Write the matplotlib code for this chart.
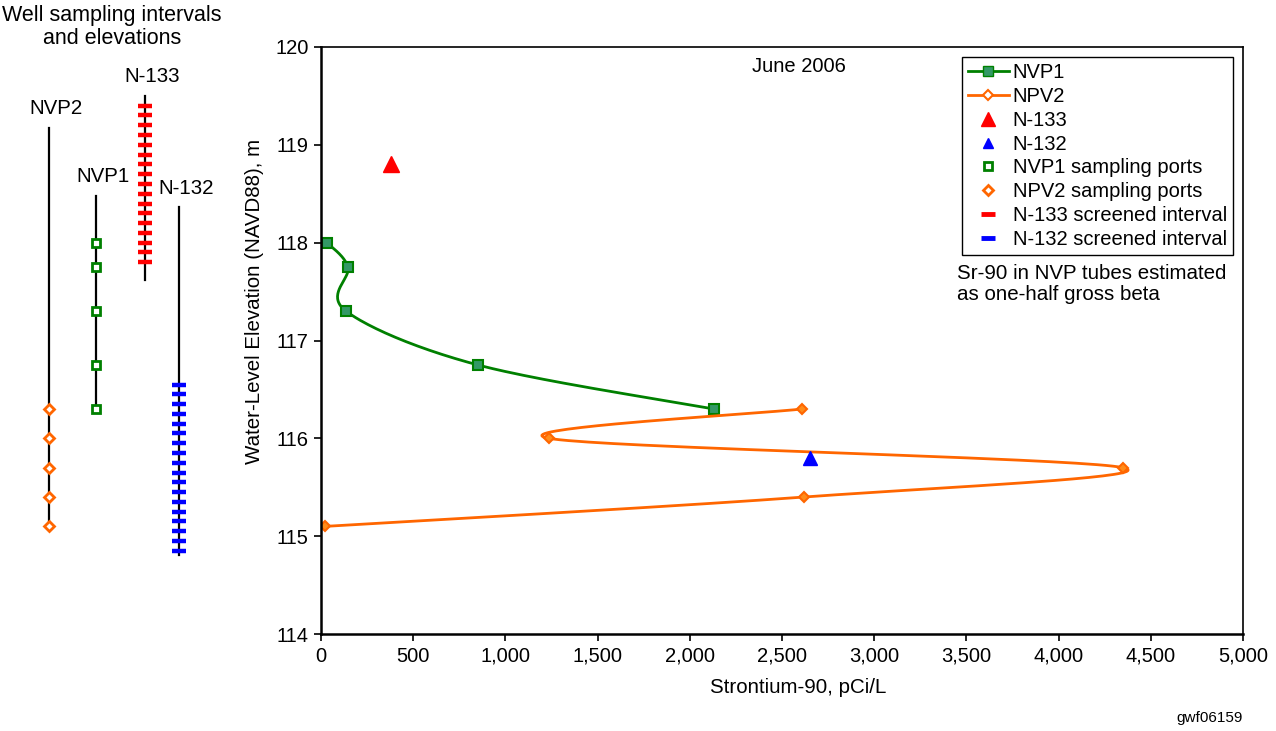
import numpy as np
import matplotlib
matplotlib.use("Agg")
import matplotlib.pyplot as plt
from matplotlib.lines import Line2D
from matplotlib.ticker import FuncFormatter

plt.rcParams['font.family'] = ['Liberation Sans', 'DejaVu Sans']

# --- data (Sr-90 pCi/L vs water-level elevation, m) ---
nvp1_sr = [33, 146, 136, 851, 2131]
nvp1_elev = [118.0, 117.75, 117.3, 116.75, 116.3]
npv2_sr = [2609, 1236, 4349, 2619, 22]
npv2_elev = [116.3, 116.0, 115.7, 115.4, 115.1]
n133_sr, n133_elev = [380], [118.8]
n132_sr, n132_elev = [2652], [115.8]

# well diagram: casing top/bottom and screened intervals (elevation, m)
wells = ['NVP2', 'NVP1', 'N-133', 'N-132']
well_top = [119.17, 118.48, 119.5, 118.36]
well_bottom = [115.08, 116.3, 117.62, 114.81]
n133_screen = [119.4, 117.8]
n132_screen = [116.55, 114.85]
screen_step = 0.1

GREEN = '#008000'
GREEN_FILL = '#339966'
ORANGE = '#FF6600'


def smooth(ax, xs, ys, n=40):
    # Excel-style smoothed line: cubic bezier through points in screen space
    pts = ax.transData.transform(np.column_stack([xs, ys]))
    p = np.vstack([pts[0], pts, pts[-1]])
    t = np.linspace(0, 1, n)[:, None]
    segs = []
    for i in range(1, len(p) - 2):
        p0, p1, p2, p3 = p[i - 1], p[i], p[i + 1], p[i + 2]
        c1 = p1 + (p2 - p0) / 6
        c2 = p2 - (p3 - p1) / 6
        segs.append((1 - t) ** 3 * p1 + 3 * (1 - t) ** 2 * t * c1
                    + 3 * (1 - t) * t ** 2 * c2 + t ** 3 * p2)
    out = ax.transData.inverted().transform(np.vstack(segs))
    return out[:, 0], out[:, 1]


fig = plt.figure(figsize=(12.76, 7.31), dpi=100)

# main chart
ax = fig.add_axes([321 / 1276, 1 - 634 / 731, 922 / 1276, 587 / 731])
ax.set_xlim(0, 5000)
ax.set_ylim(114, 120)
ax.set_xticks(np.arange(0, 5001, 500))
ax.set_yticks(np.arange(114, 121, 1))
ax.xaxis.set_major_formatter(FuncFormatter(lambda v, p: f'{int(v):,}'))
ax.tick_params(direction='out', length=5, width=1.2, labelsize=14.5, pad=4)
for side in ['left', 'bottom']:
    ax.spines[side].set_linewidth(1.8)
for side in ['top', 'right']:
    ax.spines[side].set_linewidth(1.2)
ax.set_xlabel('Strontium-90, pCi/L', fontsize=14.8, labelpad=8)
ax.xaxis.set_label_coords(0.518, -0.075)
ax.set_ylabel('Water-Level Elevation (NAVD88), m', fontsize=14.8)
ax.yaxis.set_label_coords(-0.062, 0.566)

sx, sy = smooth(ax, nvp1_sr, nvp1_elev)
ax.plot(sx, sy, color=GREEN, lw=2)
ax.plot(nvp1_sr, nvp1_elev, ls='none', marker='s', ms=7.5, mfc=GREEN_FILL,
        mec=GREEN, mew=1.5)
sx, sy = smooth(ax, npv2_sr, npv2_elev)
ax.plot(sx, sy, color=ORANGE, lw=2)
ax.plot(npv2_sr, npv2_elev, ls='none', marker='D', ms=5.5, mfc='#FF8C1A',
        mec=ORANGE, mew=1.5)
ax.plot(n133_sr, n133_elev, ls='none', marker='^', ms=11, color='#FF0000')
ax.plot(n132_sr, n132_elev, ls='none', marker='^', ms=10, color='#0000FF')

ax.text(0.518, 0.966, 'June 2006', transform=ax.transAxes, ha='center',
        va='center', fontsize=14.5)

handles = [
    Line2D([], [], color=GREEN, lw=2, marker='s', ms=7.5, mfc=GREEN_FILL, mec=GREEN),
    Line2D([], [], color=ORANGE, lw=2, marker='D', ms=5.5, mfc='white', mec=ORANGE, mew=1.5),
    Line2D([], [], ls='none', marker='^', ms=10, color='#FF0000'),
    Line2D([], [], ls='none', marker='^', ms=7, color='#0000FF'),
    Line2D([], [], ls='none', marker='s', ms=6, mfc='white', mec=GREEN, mew=2),
    Line2D([], [], ls='none', marker='D', ms=5.5, mfc='white', mec=ORANGE, mew=2),
    Line2D([], [], ls='none', marker='_', ms=10, mew=3.5, color='#FF0000'),
    Line2D([], [], ls='none', marker='_', ms=10, mew=3.5, color='#0000FF'),
]
labels = ['NVP1', 'NPV2', 'N-133', 'N-132', 'NVP1 sampling ports',
          'NPV2 sampling ports', 'N-133 screened interval',
          'N-132 screened interval']
leg = ax.legend(handles, labels, loc='upper right', fontsize=14.5,
                bbox_to_anchor=(1.0, 1.0), borderaxespad=0.5,
                handlelength=2.0, handletextpad=0.2, labelspacing=0.24,
                fancybox=False, edgecolor='black', framealpha=1,
                borderpad=0.3)
leg.get_frame().set_linewidth(1.0)

fig.text(957 / 1276, 1 - 264 / 731,
         'Sr-90 in NVP tubes estimated\nas one-half gross beta',
         ha='left', va='top', fontsize=14.8, linespacing=1.1)
fig.text(1243 / 1276, 1 - 718 / 731, 'gwf06159', ha='right', va='center',
         fontsize=11)

# well diagram on the left, same elevation scale
axw = fig.add_axes([0, 1 - 634 / 731, 230 / 1276, 587 / 731])
axw.set_xlim(0, 230)
axw.set_ylim(114, 120)
axw.axis('off')
well_x = [49, 96, 145, 179]

for x, name, top, bot in zip(well_x, wells, well_top, well_bottom):
    axw.plot([x, x], [bot, top], color='black', lw=1.6, zorder=1)
    axw.text(x + 7, top + 0.1, name, ha='center', va='bottom', fontsize=14.8)

n133_marks = np.arange(n133_screen[0], n133_screen[1] - 1e-6, -screen_step)
n132_marks = np.arange(n132_screen[0], n132_screen[1] - 1e-6, -screen_step)
axw.plot([well_x[2]] * len(n133_marks), n133_marks, ls='none', marker='_',
         ms=9.5, mew=3.2, color='#FF0000', zorder=2)
axw.plot([well_x[3]] * len(n132_marks), n132_marks, ls='none', marker='_',
         ms=9.5, mew=3.2, color='#0000FF', zorder=2)
axw.plot([well_x[1]] * len(nvp1_elev), nvp1_elev, ls='none', marker='s',
         ms=6, mfc='white', mec=GREEN, mew=2, zorder=3)
axw.plot([well_x[0]] * len(npv2_elev), npv2_elev, ls='none', marker='D',
         ms=5.5, mfc='white', mec=ORANGE, mew=2, zorder=3)

fig.text(112 / 1276, 1 - 27 / 731, 'Well sampling intervals\nand elevations',
         ha='center', va='center', fontsize=15.5, linespacing=1.15)

fig.savefig('out.png', dpi=100)
